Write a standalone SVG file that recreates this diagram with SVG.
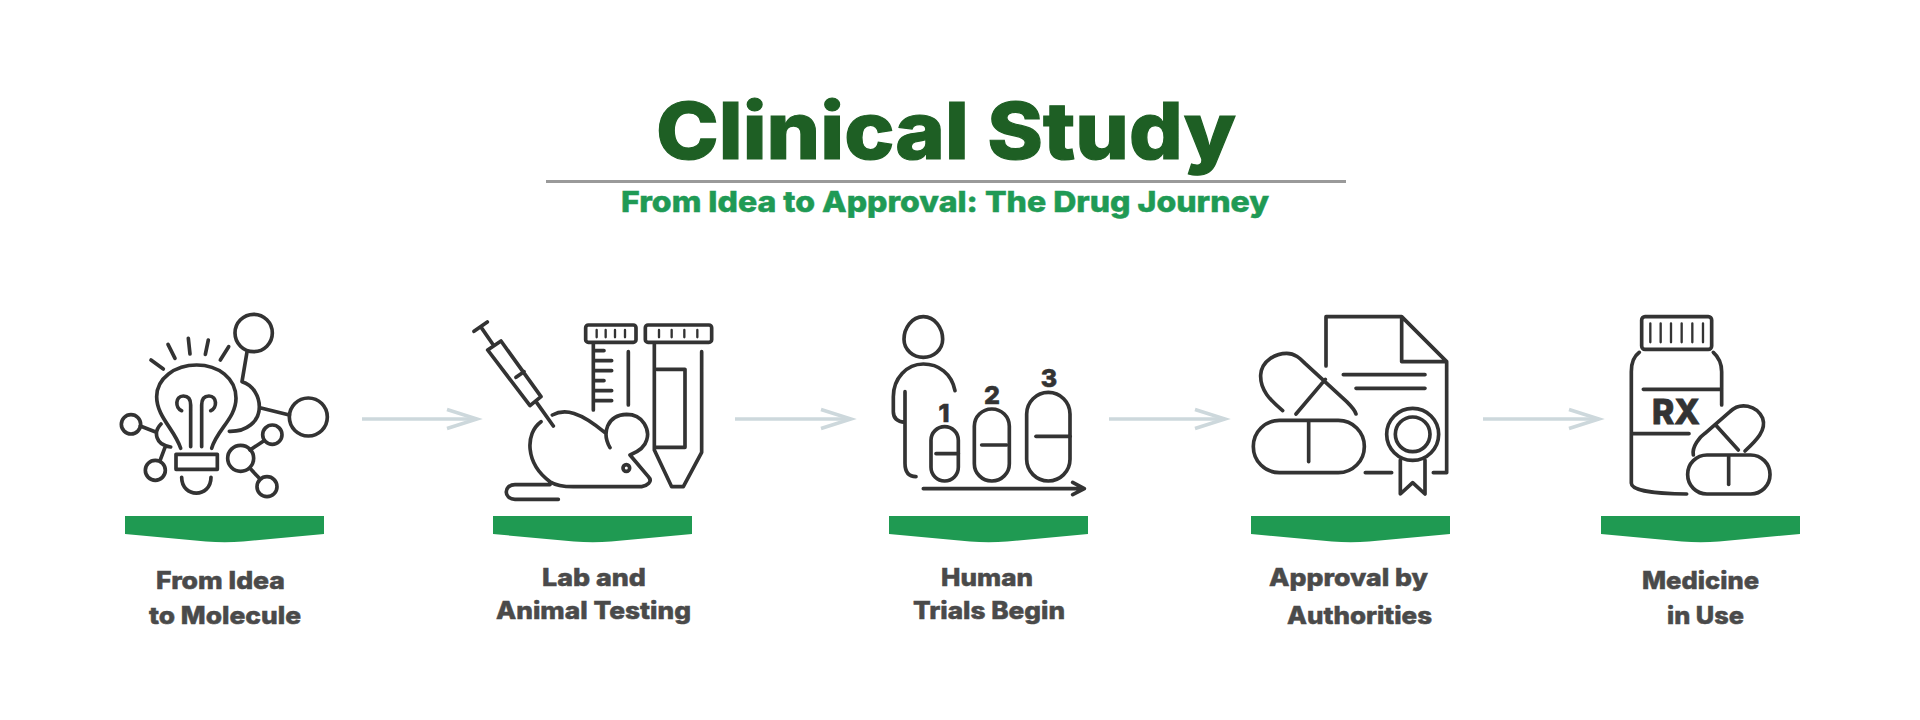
<svg xmlns="http://www.w3.org/2000/svg" width="1920" height="720" viewBox="0 0 1920 720">
<style>
text{font-family:"Inter","Liberation Sans",sans-serif;font-weight:800}
.title{font-size:79px;fill:#1e5f24;stroke:#1e5f24;stroke-width:1.2}
.sub{font-size:29px;fill:#1f9a55;stroke:#1f9a55;stroke-width:.5}
.lab{font-size:24px;fill:#4a4a4a;stroke:#4a4a4a;stroke-width:.5}
.ico{font-size:25px;fill:#333;stroke:#333;stroke-width:.6}
.rx{font-size:34px;fill:#333;stroke:#333;stroke-width:.8}
.i{fill:none;stroke:#333;stroke-width:11;stroke-linecap:round;stroke-linejoin:round}
.t{stroke-width:7}
.bar{fill:#1f9a52}
.c{fill:none;stroke:#cdd8dc;stroke-width:3.5}
</style>
<defs>
<marker id="ah" markerUnits="userSpaceOnUse" markerWidth="42" markerHeight="26" refX="32" refY="13" orient="auto"><path d="M2 3.5 L32 13 L2 22.5" fill="none" stroke="#cdd8dc" stroke-width="3.5"/></marker>
<path id="b" d="M0 0H199V18L118 25.5Q100 27 81 25.5L0 18Z"/>
</defs>
<rect width="1920" height="720" fill="#fff"/>
<g id="header">
<text class="title" x="656" y="159" textLength="580" lengthAdjust="spacingAndGlyphs">Clinical Study</text>
<rect x="546" y="180" width="800" height="3" fill="#9a9a9a"/>
<text class="sub" x="621" y="212" textLength="648" lengthAdjust="spacingAndGlyphs">From Idea to Approval: The Drug Journey</text>
</g>
<g id="connectors">
<path class="c" d="M362 419H477" marker-end="url(#ah)"/>
<path class="c" d="M735 419H851" marker-end="url(#ah)"/>
<path class="c" d="M1109 419H1225" marker-end="url(#ah)"/>
<path class="c" d="M1483 419H1599" marker-end="url(#ah)"/>
</g>
<g id="node-idea">
<g class="i" transform="translate(100 290) scale(.33333)">
<circle cx="461" cy="129" r="56"/><circle cx="625" cy="381" r="57"/><circle cx="93" cy="403" r="29"/><circle cx="166" cy="541" r="30"/><circle cx="422" cy="505" r="39"/><circle cx="517" cy="434" r="29"/><circle cx="501" cy="590" r="30"/>
<path d="M441 186L426 275C460 285 478 320 478 350C478 395 440 425 388 424M480 353L568 375M121 408L165 425M183 402C160 425 165 465 212 471M195 472L180 512M450 480L492 452M450 535L478 565"/>
<path d="M242 475C225 420 170 380 170 320C170 265 225 225 290 225C355 225 408 265 408 325C408 385 350 420 335 475"/>
<rect x="228" y="493" width="124" height="45"/>
<path d="M245 562C245 625 333 625 333 562"/>
<path d="M272 470V345C272 325 262 318 250 318C225 318 225 355 245 362M305 470V345C305 325 315 318 327 318C352 318 352 355 332 362"/>
<path d="M153 210L190 237M204 163L225 205M265 145L270 192M325 150L316 193M386 170L361 210"/>
</g>
<use href="#b" class="bar" x="125" y="516"/>
<text class="lab" x="156" y="589" textLength="129" lengthAdjust="spacingAndGlyphs">From Idea</text>
<text class="lab" x="149" y="624" textLength="152" lengthAdjust="spacingAndGlyphs">to Molecule</text>
</g>
<g id="node-lab">
<g class="i" transform="translate(450 290) scale(.33333)">
<path d="M72 124L112 96M92 110L130 165M113 180L153 153L273 320L240 347ZM198 262L222 245M258 335L310 408"/>
<rect x="407" y="105" width="151" height="52" rx="8"/>
<path class="t" d="M440 120V142M467 120V142M495 120V142M525 120V142"/>
<path d="M430 163V360M430 182H462M430 212H485M430 242H485M430 272H462M430 302H485M430 332H485M535 185V345"/>
<rect x="586" y="105" width="199" height="52" rx="8"/>
<path class="t" d="M627 120V142M665 120V142M703 120V142M742 120V142"/>
<path d="M613 163V480L665 590H700L755 487V185M620 238H705V472H615"/>
<path d="M273 395C225 430 225 520 300 575C320 588 340 590 370 590H575C590 588 610 575 595 560L540 495C565 485 585 470 590 450C600 420 580 373 530 373C470 375 455 430 480 473M307 375C345 355 390 365 465 428M300 584H195C160 584 160 628 195 628H325"/>
<circle cx="529" cy="534" r="10"/>
</g>
<use href="#b" class="bar" x="493" y="516"/>
<text class="lab" x="542" y="586" textLength="104" lengthAdjust="spacingAndGlyphs">Lab and</text>
<text class="lab" x="496" y="619" textLength="195" lengthAdjust="spacingAndGlyphs">Animal Testing</text>
</g>
<g id="node-trials">
<g class="i" transform="translate(840 290) scale(.33333)">
<path d="M250 80C285 80 308 115 308 148C308 180 280 202 250 202C220 202 192 180 192 148C192 115 215 80 250 80Z"/>
<path d="M345 302C335 250 295 222 250 222C200 222 160 265 160 320V365C160 385 175 395 195 397M195 305V520C195 550 210 560 228 560"/>
<rect x="273" y="410" width="82" height="163" rx="41"/><path d="M288 491H355"/>
<rect x="403" y="357" width="105" height="216" rx="52"/><path d="M425 465H500"/>
<rect x="560" y="307" width="130" height="266" rx="65"/><path d="M588 439H690"/>
<path d="M250 596H733M698 577L733 596L698 614"/>
</g>
<text class="ico" x="944" y="422" text-anchor="middle">1</text>
<text class="ico" x="992" y="404" text-anchor="middle">2</text>
<text class="ico" x="1049" y="387" text-anchor="middle">3</text>
<use href="#b" class="bar" x="889" y="516"/>
<text class="lab" x="941" y="586" textLength="92" lengthAdjust="spacingAndGlyphs">Human</text>
<text class="lab" x="913" y="619" textLength="152" lengthAdjust="spacingAndGlyphs">Trials Begin</text>
</g>
<g id="node-approval">
<g class="i" transform="translate(1220 290) scale(.33333)">
<path d="M318 228V80H545L680 215V548H640M545 80V215H680M370 254H615M408 295H615M436 548H515"/>
<circle cx="578" cy="433" r="78"/><circle cx="578" cy="433" r="52"/>
<path d="M541 510V612L578 578L615 612V510"/>
<rect x="100" y="391" width="333" height="157" rx="78"/><path d="M266 395V515"/>
<path d="M188 362C150 330 120 300 122 255C125 210 170 190 200 190C225 190 240 205 255 220L380 335C395 350 405 360 408 372M316 268L228 372"/>
</g>
<use href="#b" class="bar" x="1251" y="516"/>
<text class="lab" x="1269" y="586" textLength="159" lengthAdjust="spacingAndGlyphs">Approval by</text>
<text class="lab" x="1287" y="624" textLength="145" lengthAdjust="spacingAndGlyphs">Authorities</text>
</g>
<g id="node-medicine">
<g class="i" transform="translate(1540 290) scale(.33333)">
<rect x="305" y="80" width="210" height="98" rx="10"/>
<path class="t" d="M331 100V157M362 100V157M393 100V157M425 100V157M457 100V157M489 100V157"/>
<path d="M298 187C280 200 274 220 274 245V580C274 600 340 612 440 612M520 187C540 205 545 225 545 245V345M310 298H545M276 431H447"/>
<path d="M460 495C455 470 480 440 495 430L570 365C600 335 650 345 668 385C680 420 650 450 615 483M527 405L595 480"/>
<rect x="443" y="495" width="247" height="117" rx="58"/><path d="M566 500V583"/>
</g>
<text class="rx" x="1652" y="424" textLength="48" lengthAdjust="spacingAndGlyphs">RX</text>
<use href="#b" class="bar" x="1601" y="516"/>
<text class="lab" x="1642" y="589" textLength="117" lengthAdjust="spacingAndGlyphs">Medicine</text>
<text class="lab" x="1667" y="624" textLength="77" lengthAdjust="spacingAndGlyphs">in Use</text>
</g>
</svg>
